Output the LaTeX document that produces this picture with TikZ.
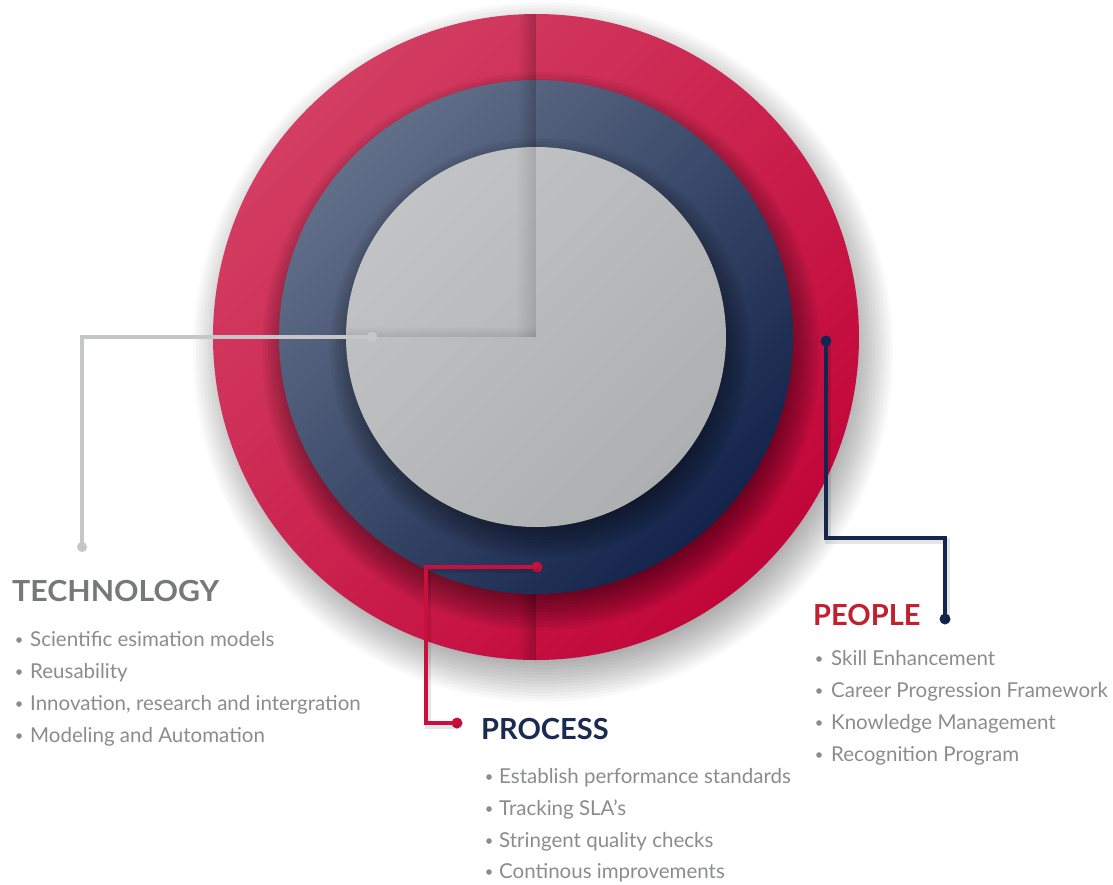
\documentclass[tikz,border=0pt]{standalone}
\usepackage{fontspec}
\setmainfont{Lato}
\usetikzlibrary{fadings}

% palette
\definecolor{ringRedLight}{HTML}{D33E63}
\definecolor{ringRedMid}{HTML}{C91F4A}
\definecolor{ringRedDark}{HTML}{C10639}
\definecolor{ringNavyLight}{HTML}{626F89}
\definecolor{ringNavyMid}{HTML}{2B3A5C}
\definecolor{ringNavyDark}{HTML}{13234A}
\definecolor{coreLight}{HTML}{C2C3C5}
\definecolor{coreDark}{HTML}{AEAFB1}
\definecolor{techGray}{HTML}{C5C6C8}
\definecolor{procRed}{HTML}{C8103E}
\definecolor{peopleNavy}{HTML}{14254F}
\definecolor{headGray}{HTML}{77787B}
\definecolor{headNavy}{HTML}{1B2A52}
\definecolor{headRed}{HTML}{C3202F}
\definecolor{bodyGray}{HTML}{8B8C8E}

% soft shadow strips along the seams between segments
\tikzfading[name=seamfromleft, left color=transparent!100, right color=transparent!0]
\tikzfading[name=seamfromtop, top color=transparent!100, bottom color=transparent!0]

\begin{document}
\begin{tikzpicture}[x=1pt,y=-1pt,
  heading/.style={anchor=base west, inner sep=0pt, font=\fontsize{29}{34}\selectfont\bfseries},
  item/.style={anchor=base west, inner sep=0pt, text=bodyGray, font=\fontsize{20.5}{24}\selectfont},
  bullet/.style={circle, fill=bodyGray, inner sep=0pt, minimum size=5.6pt},
  link/.style={line width=4.5pt, line join=miter},
  linkshadow/.style={line width=6pt, black, opacity=0.10, line join=miter,
    transform canvas={shift={(1.5pt,-3pt)}}},
  dot/.style={circle, inner sep=0pt, minimum size=11pt}]

\useasboundingbox (0,0) rectangle (1113,884);
\fill[white] (0,0) rectangle (1113,884);
\coordinate (c) at (536,337);

% soft drop shadow of the whole disc
\foreach \i in {0,...,16}
  \fill[black, opacity=0.022] ([shift={(7,15)}]c) circle[radius={302pt+3pt*\i}];

% outer red ring
\shade[transform canvas={rotate around={45:(c)}},
  top color=ringRedLight, middle color=ringRedMid, bottom color=ringRedDark]
  (c) circle[radius=323pt];
\begin{scope}
  \clip (c) circle[radius=323pt];
  \fill[black, opacity=0.22, path fading=seamfromleft] (518,0) rectangle (536,100);
  \fill[black, opacity=0.22, path fading=seamfromleft] (518,570) rectangle (536,670);
  % shadow of the navy ring
  \foreach \i in {0,...,13}
    \fill[black, opacity=0.045] ([shift={(5,14)}]c) circle[radius={240pt+3pt*\i}];
\end{scope}

% middle navy ring
\shade[transform canvas={rotate around={45:(c)}},
  top color=ringNavyLight, middle color=ringNavyMid, bottom color=ringNavyDark]
  (c) circle[radius=257pt];
\begin{scope}
  \clip (c) circle[radius=257pt];
  \fill[black, opacity=0.2, path fading=seamfromleft] (518,70) rectangle (536,160);
  \draw[white, opacity=0.05, line width=1pt] (401.6,471.4) -- (354.3,518.7);
  % shadow of the grey core
  \foreach \i in {0,...,12}
    \fill[black, opacity=0.045] ([shift={(4,11)}]c) circle[radius={174pt+3pt*\i}];
\end{scope}

% grey core with its upper-left quarter
\shade[transform canvas={rotate around={45:(c)}},
  top color=coreLight, bottom color=coreDark]
  (c) circle[radius=190pt];
\begin{scope}
  \clip (c) circle[radius=190pt];
  \fill[black, opacity=0.12, path fading=seamfromleft] (516,140) rectangle (536,337);
  \fill[black, opacity=0.10, path fading=seamfromtop] (340,326) rectangle (536,337);
\end{scope}

% connector anchors
\node[dot, fill=techGray] (techStart) at (372,337) {};
\coordinate (techBend) at (82,337);
\node[dot, fill=techGray, minimum size=10pt] (techEnd) at (82,547) {};

\node[dot, fill=procRed] (procStart) at (537,567) {};
\coordinate (procBendA) at (426,567);
\coordinate (procBendB) at (426,723);
\node[dot, fill=procRed] (procEnd) at (457,723) {};

\node[dot, fill=peopleNavy] (peopleStart) at (826,341) {};
\coordinate (peopleBendA) at (826,538);
\coordinate (peopleBendB) at (945,538);
\node[dot, fill=peopleNavy] (peopleEnd) at (945,619) {};

% connectors
\draw[linkshadow] (procStart.center) -- (procBendA) -- (procBendB) -- (procEnd.center);
\draw[linkshadow] (peopleStart.center) -- (peopleBendA) -- (peopleBendB) -- (peopleEnd.center);
\draw[link, techGray] (techStart.center) -- (techBend) -- (techEnd.center);
\draw[link, procRed] (procStart.center) -- (procBendA) -- (procBendB) -- (procEnd.center);
\draw[link, peopleNavy] (peopleStart.center) -- (peopleBendA) -- (peopleBendB) -- (peopleEnd.center);

% TECHNOLOGY
\node[heading, text=headGray] (techHead) at (12,601) {\scalebox{1.045}[1]{TECHNOLOGY}};
\node[bullet] (tb1) at (19,640) {};
\node[item] (tech1) at (30,646) {Scientific esimation models};
\node[bullet] (tb2) at (19,672) {};
\node[item] (tech2) at (30,678) {Reusability};
\node[bullet] (tb3) at (19,704) {};
\node[item] (tech3) at (30,710) {Innovation, research and intergration};
\node[bullet] (tb4) at (19,736) {};
\node[item] (tech4) at (30,742) {Modeling and Automation};

% PROCESS
\node[heading, text=headNavy] (procHead) at (481,739) {PROCESS};
\node[bullet] (pb1) at (489,777) {};
\node[item] (proc1) at (499,783) {Establish performance standards};
\node[bullet] (pb2) at (489,809) {};
\node[item] (proc2) at (499,815) {Tracking SLA’s};
\node[bullet] (pb3) at (489,841) {};
\node[item] (proc3) at (499,847) {Stringent quality checks};
\node[bullet] (pb4) at (489,872) {};
\node[item] (proc4) at (499,878) {Continous improvements};

% PEOPLE
\node[heading, text=headRed] (peopleHead) at (813,625) {PEOPLE};
\node[bullet] (eb1) at (819,659) {};
\node[item] (people1) at (831,665) {Skill Enhancement};
\node[bullet] (eb2) at (819,691) {};
\node[item] (people2) at (831,697) {Career Progression Framework};
\node[bullet] (eb3) at (819,723) {};
\node[item] (people3) at (831,729) {Knowledge Management};
\node[bullet] (eb4) at (819,755) {};
\node[item] (people4) at (831,761) {Recognition Program};
\end{tikzpicture}
\end{document}
